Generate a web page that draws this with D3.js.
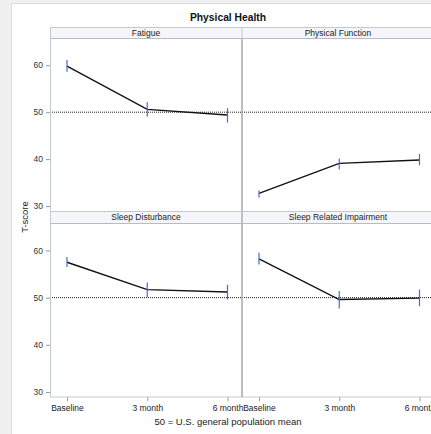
<!DOCTYPE html>
<html><head><meta charset="utf-8">
<script src="https://cdn.jsdelivr.net/npm/d3@7"></script>
<style>html,body{margin:0;padding:0;background:#fff;overflow:hidden}</style>
</head><body>
<script>
const timepoints = ["Baseline", "3 month", "6 month"];
const panels = ["Fatigue", "Physical Function", "Sleep Disturbance", "Sleep Related Impairment"];
const means = [
  [59.8, 50.6, 49.4],
  [32.7, 39.1, 39.8],
  [57.5, 51.7, 51.2],
  [58.2, 49.6, 49.9]
];
const lower = [
  [58.6, 49.1, 47.8],
  [31.8, 37.8, 38.7],
  [56.5, 50.1, 49.6],
  [57.0, 47.7, 48.2]
];
const upper = [
  [61.1, 52.1, 50.85],
  [33.3, 40.1, 41.1],
  [58.6, 53.2, 52.7],
  [59.5, 51.4, 51.7]
];
const yTicks = [30, 40, 50, 60];
const refValue = 50;
const titleText = "Physical Health";
const yLabel = "T-score";
const footText = "50 = U.S. general population mean";

const W = 431, H = 434;
const svg = d3.select("body").append("svg").attr("width", W).attr("height", H)
  .style("font-family", "'Liberation Sans', Arial, sans-serif");

// background frame
svg.append("rect").attr("x", 0).attr("y", 0).attr("width", W).attr("height", H).attr("fill", "#f0f0f0");
svg.append("rect").attr("x", 11.5).attr("y", 3.5).attr("width", W).attr("height", H).attr("fill", "#fff").attr("stroke", "#dcdcdc");

const left = 50, cellW = 192;
const rows = [{hTop: 27, pTop: 38.5, pBot: 211}, {hTop: 211, pTop: 223.5, pBot: 397}];

svg.append("text").attr("x", 228).attr("y", 21).attr("text-anchor", "middle")
  .attr("font-size", 10.3).attr("font-weight", "bold").attr("fill", "#111").text(titleText);

const x = d3.scalePoint().domain(timepoints).range([17, 177.5]);

panels.forEach((name, i) => {
  const r = rows[Math.floor(i / 2)], c = i % 2;
  const cx = left + c * cellW;
  const y = d3.scaleLinear().domain([28.95, 65.7]).range([r.pBot, r.pTop]);
  const g = svg.append("g");
  // header
  g.append("rect").attr("x", cx).attr("y", r.hTop).attr("width", cellW).attr("height", r.pTop - r.hTop)
    .attr("fill", "#f4f6fa");
  g.append("line").attr("x1", cx).attr("x2", cx + cellW).attr("y1", r.hTop + 0.5).attr("y2", r.hTop + 0.5).attr("stroke", "#c4c8d0");
  g.append("line").attr("x1", cx).attr("x2", cx + cellW).attr("y1", r.pTop).attr("y2", r.pTop).attr("stroke", "#b8bcc4");
  g.append("text").attr("x", cx + cellW / 2).attr("y", r.hTop + 8.8).attr("text-anchor", "middle")
    .attr("font-size", 8.5).attr("fill", "#222").text(name);
  // reference line
  g.append("line").attr("x1", cx).attr("x2", cx + cellW).attr("y1", y(refValue)).attr("y2", y(refValue))
    .attr("stroke", "#222").attr("stroke-width", 1).attr("stroke-dasharray", "1,1");
  // y axis on left column
  if (c === 0) {
    const ax = g.append("g").attr("transform", `translate(${left},0)`)
      .call(d3.axisLeft(y).tickValues(yTicks).tickSize(4).tickPadding(3));
    ax.select(".domain").remove();
    ax.selectAll("line").attr("stroke", "#999");
    ax.selectAll("text").attr("font-size", 8.5).attr("fill", "#333").style("font-family", "'Liberation Sans', Arial, sans-serif");
  }
  // x axis on bottom row
  if (i >= 2) {
    const ax = g.append("g").attr("transform", `translate(${cx},${r.pBot})`)
      .call(d3.axisBottom(x).tickSize(4).tickPadding(4));
    ax.select(".domain").remove();
    ax.selectAll("line").attr("stroke", "#999");
    ax.selectAll("text").attr("font-size", 8.5).attr("fill", "#222")
      .style("font-family", "'Liberation Sans', Arial, sans-serif");
  }
  // line
  const line = d3.line().x((d, j) => cx + x(timepoints[j])).y(d => y(d));
  g.append("path").attr("d", line(means[i])).attr("fill", "none").attr("stroke", "#111").attr("stroke-width", 1.4);
  // error bars
  timepoints.forEach((t, j) => {
    g.append("line").attr("x1", cx + x(t)).attr("x2", cx + x(t))
      .attr("y1", y(lower[i][j])).attr("y2", y(upper[i][j]))
      .attr("stroke", "#4a6cc8").attr("stroke-width", 1.2);
  });
});

// frame lines
svg.append("line").attr("x1", left + 0.5).attr("x2", left + 0.5).attr("y1", 27).attr("y2", 397).attr("stroke", "#c4c8d0");
svg.append("line").attr("x1", left).attr("x2", W).attr("y1", 397).attr("y2", 397).attr("stroke", "#c4c8d0");
svg.append("line").attr("x1", left + cellW).attr("x2", left + cellW).attr("y1", 38.5).attr("y2", 397).attr("stroke", "#a8a8a8").attr("stroke-width", 1.5);
svg.append("line").attr("x1", left + cellW).attr("x2", left + cellW).attr("y1", 27).attr("y2", 38.5).attr("stroke", "#c4c8d0");
svg.append("line").attr("x1", left + cellW).attr("x2", left + cellW).attr("y1", 211).attr("y2", 223.5).attr("stroke", "#c4c8d0");

svg.append("text").attr("transform", "translate(28,217) rotate(-90)").attr("text-anchor", "middle")
  .attr("font-size", 9.5).attr("fill", "#222").text(yLabel);
svg.append("text").attr("x", 228).attr("y", 425).attr("text-anchor", "middle")
  .attr("font-size", 9.5).attr("fill", "#222").text(footText);
</script>
</body></html>
